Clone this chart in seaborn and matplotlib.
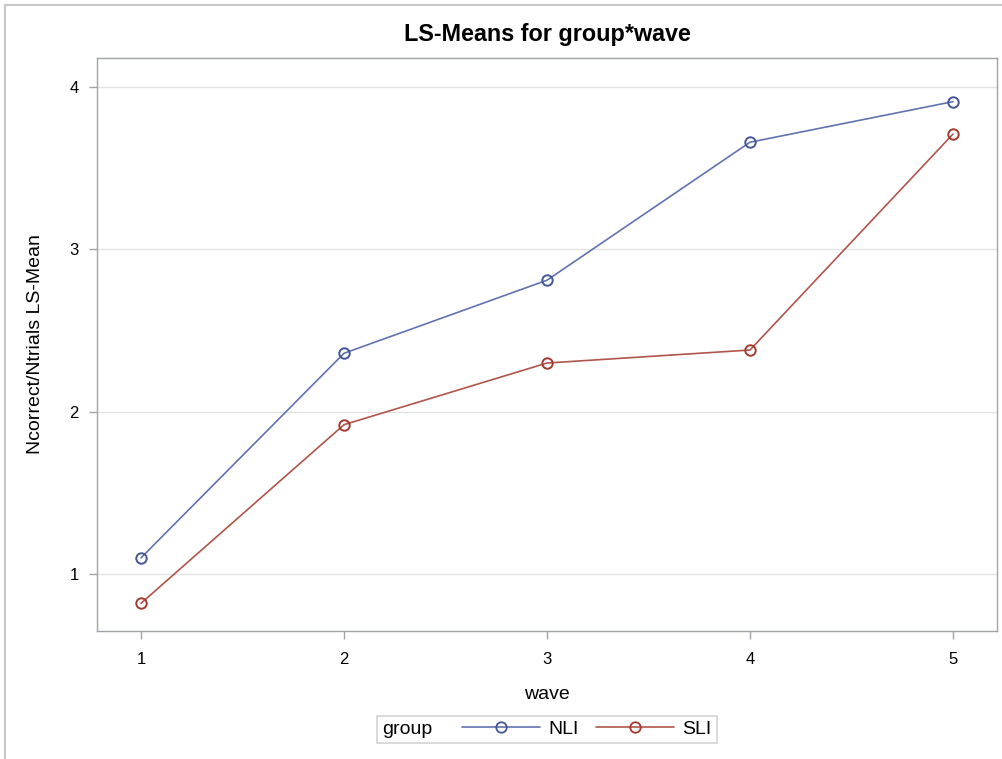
import matplotlib
matplotlib.use("Agg")
import matplotlib.pyplot as plt
import seaborn as sns
import pandas as pd
from matplotlib.lines import Line2D
from matplotlib.offsetbox import HPacker

waves = [1, 2, 3, 4, 5]
nli = [1.10, 2.36, 2.81, 3.66, 3.91]
sli = [0.82, 1.92, 2.30, 2.38, 3.71]
groups = ["NLI", "SLI"]
colors = {"NLI": "#6272B0", "SLI": "#B0554C"}
marker_colors = {"NLI": "#445694", "SLI": "#A23A2E"}

df = pd.DataFrame({
    "wave": waves * 2,
    "mean": nli + sli,
    "group": ["NLI"] * len(waves) + ["SLI"] * len(waves),
})

sns.set_style("white")
plt.rcParams["font.family"] = ["Liberation Sans", "DejaVu Sans"]
plt.rcParams["text.color"] = "black"
plt.rcParams["axes.labelcolor"] = "black"

fig = plt.figure(figsize=(10.03, 7.59), dpi=100)
ax = fig.add_axes([0.0967, 0.1686, 0.8973, 0.755])

sns.lineplot(data=df, x="wave", y="mean", hue="group", palette=colors,
             marker="o", ax=ax, legend=False, linewidth=1.2, markersize=7.5)
color_to_group = {matplotlib.colors.to_hex(v): k for k, v in colors.items()}
for line in ax.lines:
    g = color_to_group.get(matplotlib.colors.to_hex(line.get_color()))
    line.set_markerfacecolor("none")
    line.set_markeredgecolor(marker_colors.get(g, line.get_color()))
    line.set_markeredgewidth(1.4)

ax.set_xlim(0.783, 5.217)
ax.set_ylim(0.649, 4.179)
ax.set_xticks(waves)
ax.set_yticks([1, 2, 3, 4])
ax.yaxis.grid(True, color="#E3E3E3", linewidth=1)
ax.set_axisbelow(True)
for s in ax.spines.values():
    s.set_color("#A0A4A8")
    s.set_linewidth(1)
ax.tick_params(axis="both", direction="out", length=6, width=1, color="#A0A4A8",
               labelsize=12, labelcolor="black", bottom=True, left=True)
ax.tick_params(axis="x", pad=9)
ax.tick_params(axis="y", pad=7)

ax.set_xlabel("wave", fontsize=14, labelpad=14)
ax.set_ylabel("Ncorrect/Ntrials LS-Mean", fontsize=14, labelpad=18.5)
ax.set_title("LS-Means for group*wave", fontsize=16.8, fontweight="bold", pad=12)

handles = []
for g in groups:
    handles.append(Line2D([], [], color=colors[g], marker="o", markerfacecolor="none",
                          markeredgecolor=marker_colors[g], markeredgewidth=1.3,
                          markersize=7.5, linewidth=1.2, label=g))
leg = fig.legend(handles=handles, loc="center", bbox_to_anchor=(0.5454, 0.0389), ncol=2,
                 frameon=True, fancybox=False, fontsize=14, title="group",
                 title_fontsize=14, handlelength=4.0, handletextpad=0.46,
                 columnspacing=0.87, borderpad=0.25)
leg.get_frame().set_edgecolor("#C8C8C8")
leg.get_frame().set_linewidth(1.2)
leg._legend_box = HPacker(pad=3.5, sep=21, align="center",
                          children=[leg._legend_title_box, leg._legend_handle_box])
leg._legend_box.set_figure(fig)
leg._legend_box.set_offset(leg._findoffset)

# outer border
fig.add_artist(Line2D([0.005, 1.0], [0.993, 0.993], color="#C8C8C8", linewidth=1.5,
                      transform=fig.transFigure))
fig.add_artist(Line2D([0.005, 0.005], [0.0, 0.993], color="#C8C8C8", linewidth=1.5,
                      transform=fig.transFigure))

fig.savefig("out.png", dpi=100)
